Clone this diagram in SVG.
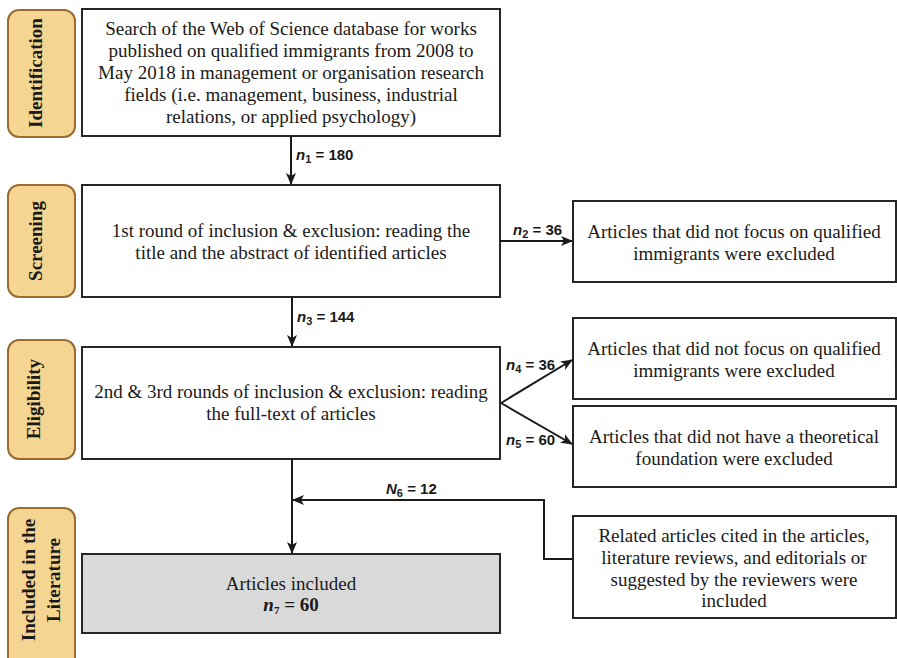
<svg xmlns="http://www.w3.org/2000/svg" width="897" height="658" viewBox="0 0 897 658">
<defs>
<style>
.side{fill:#f5d592;stroke:#9a6b2c;stroke-width:2}
.box{fill:#ffffff;stroke:#262626;stroke-width:2}
.gray{fill:#d9d9d9;stroke:#262626;stroke-width:2}
.t{font-family:"Liberation Serif","Times New Roman",serif;font-size:19px;fill:#1a1a1a;text-anchor:middle}
.st{font-family:"Liberation Serif","Times New Roman",serif;font-size:19px;font-weight:bold;fill:#1a1a1a;text-anchor:middle}
.lab{font-family:"Liberation Sans",Arial,sans-serif;font-size:15px;font-weight:bold;fill:#1a1a1a}
.i{font-style:italic}
.sub{font-size:11px}
.line{fill:none;stroke:#1a1a1a;stroke-width:2}
</style>
<marker id="ah" viewBox="0 0 12 10" refX="11" refY="5" markerWidth="12" markerHeight="10" markerUnits="userSpaceOnUse" orient="auto">
<path d="M0,0 L12,5 L0,10 L3,5 Z" fill="#1a1a1a"/>
</marker>
</defs>

<g id="stage-identification">
<rect class="side" x="8" y="10" width="67" height="127" rx="11"/>
<text class="st" transform="translate(42,73) rotate(-90)">Identification</text>
</g>
<g id="stage-screening">
<rect class="side" x="8" y="185" width="67" height="112" rx="11"/>
<text class="st" transform="translate(42,241) rotate(-90)">Screening</text>
</g>
<g id="stage-eligibility">
<rect class="side" x="8" y="340" width="67" height="119" rx="11"/>
<text class="st" transform="translate(40,399) rotate(-90)">Eligibility</text>
</g>
<g id="stage-included">
<rect class="side" x="8" y="508" width="67" height="165" rx="11"/>
<text class="st" transform="translate(35,580) rotate(-90)">Included in the</text>
<text class="st" transform="translate(60,580) rotate(-90)">Literature</text>
</g>

<g id="node-search">
<rect class="box" x="82" y="9" width="418" height="127"/>
<text class="t"><tspan x="291" y="35">Search of the Web of Science database for works</tspan><tspan x="291" y="57">published on qualified immigrants from 2008 to</tspan><tspan x="291" y="79">May 2018 in management or organisation research</tspan><tspan x="291" y="101">fields (i.e. management, business, industrial</tspan><tspan x="291" y="123">relations, or applied psychology)</tspan></text>
</g>
<g id="node-round1">
<rect class="box" x="82" y="185" width="418" height="112"/>
<text class="t"><tspan x="291" y="237">1st round of inclusion &amp; exclusion: reading the</tspan><tspan x="291" y="259">title and the abstract of identified articles</tspan></text>
</g>
<g id="node-excl1">
<rect class="box" x="573" y="201" width="323" height="81"/>
<text class="t"><tspan x="734" y="238">Articles that did not focus on qualified</tspan><tspan x="734" y="260">immigrants were excluded</tspan></text>
</g>
<g id="node-round23">
<rect class="box" x="82" y="347" width="418" height="112"/>
<text class="t"><tspan x="291" y="398">2nd &amp; 3rd rounds of inclusion &amp; exclusion: reading</tspan><tspan x="291" y="420">the full-text of articles</tspan></text>
</g>
<g id="node-excl2">
<rect class="box" x="573" y="318" width="323" height="81"/>
<text class="t"><tspan x="734" y="355">Articles that did not focus on qualified</tspan><tspan x="734" y="377">immigrants were excluded</tspan></text>
</g>
<g id="node-excl3">
<rect class="box" x="573" y="406" width="323" height="81"/>
<text class="t"><tspan x="734" y="443">Articles that did not have a theoretical</tspan><tspan x="734" y="465">foundation were excluded</tspan></text>
</g>
<g id="node-related">
<rect class="box" x="573" y="516" width="323" height="102"/>
<text class="t"><tspan x="734" y="542">Related articles cited in the articles,</tspan><tspan x="734" y="564">literature reviews, and editorials or</tspan><tspan x="734" y="586">suggested by the reviewers were</tspan><tspan x="734" y="607">included</tspan></text>
</g>
<g id="node-included">
<rect class="gray" x="82" y="554" width="418" height="79"/>
<text class="t"><tspan x="291" y="590">Articles included</tspan></text>
<text class="t" style="font-weight:bold" x="291" y="611"><tspan class="i">n</tspan><tspan class="sub" dy="3">7</tspan><tspan dy="-3"> = 60</tspan></text>
</g>

<g id="connectors">
<line class="line" x1="291" y1="136" x2="291" y2="184" marker-end="url(#ah)"/>
<line class="line" x1="500" y1="241" x2="572" y2="241" marker-end="url(#ah)"/>
<line class="line" x1="292" y1="297" x2="292" y2="346" marker-end="url(#ah)"/>
<line class="line" x1="501" y1="403" x2="572" y2="360" marker-end="url(#ah)"/>
<line class="line" x1="501" y1="403" x2="572" y2="444" marker-end="url(#ah)"/>
<line class="line" x1="292" y1="459" x2="292" y2="553" marker-end="url(#ah)"/>
<polyline class="line" points="573,559 544,559 544,500 293,500" marker-end="url(#ah)"/>
<text class="lab" x="296" y="160"><tspan class="i">n</tspan><tspan class="sub" dy="3">1</tspan><tspan dy="-3"> = 180</tspan></text>
<text class="lab" x="513" y="235"><tspan class="i">n</tspan><tspan class="sub" dy="3">2</tspan><tspan dy="-3"> = 36</tspan></text>
<text class="lab" x="297" y="322"><tspan class="i">n</tspan><tspan class="sub" dy="3">3</tspan><tspan dy="-3"> = 144</tspan></text>
<text class="lab" x="506" y="370"><tspan class="i">n</tspan><tspan class="sub" dy="3">4</tspan><tspan dy="-3"> = 36</tspan></text>
<text class="lab" x="506" y="445"><tspan class="i">n</tspan><tspan class="sub" dy="3">5</tspan><tspan dy="-3"> = 60</tspan></text>
<text class="lab" x="386" y="494"><tspan class="i">N</tspan><tspan class="sub" dy="3">6</tspan><tspan dy="-3"> = 12</tspan></text>
</g>
</svg>
